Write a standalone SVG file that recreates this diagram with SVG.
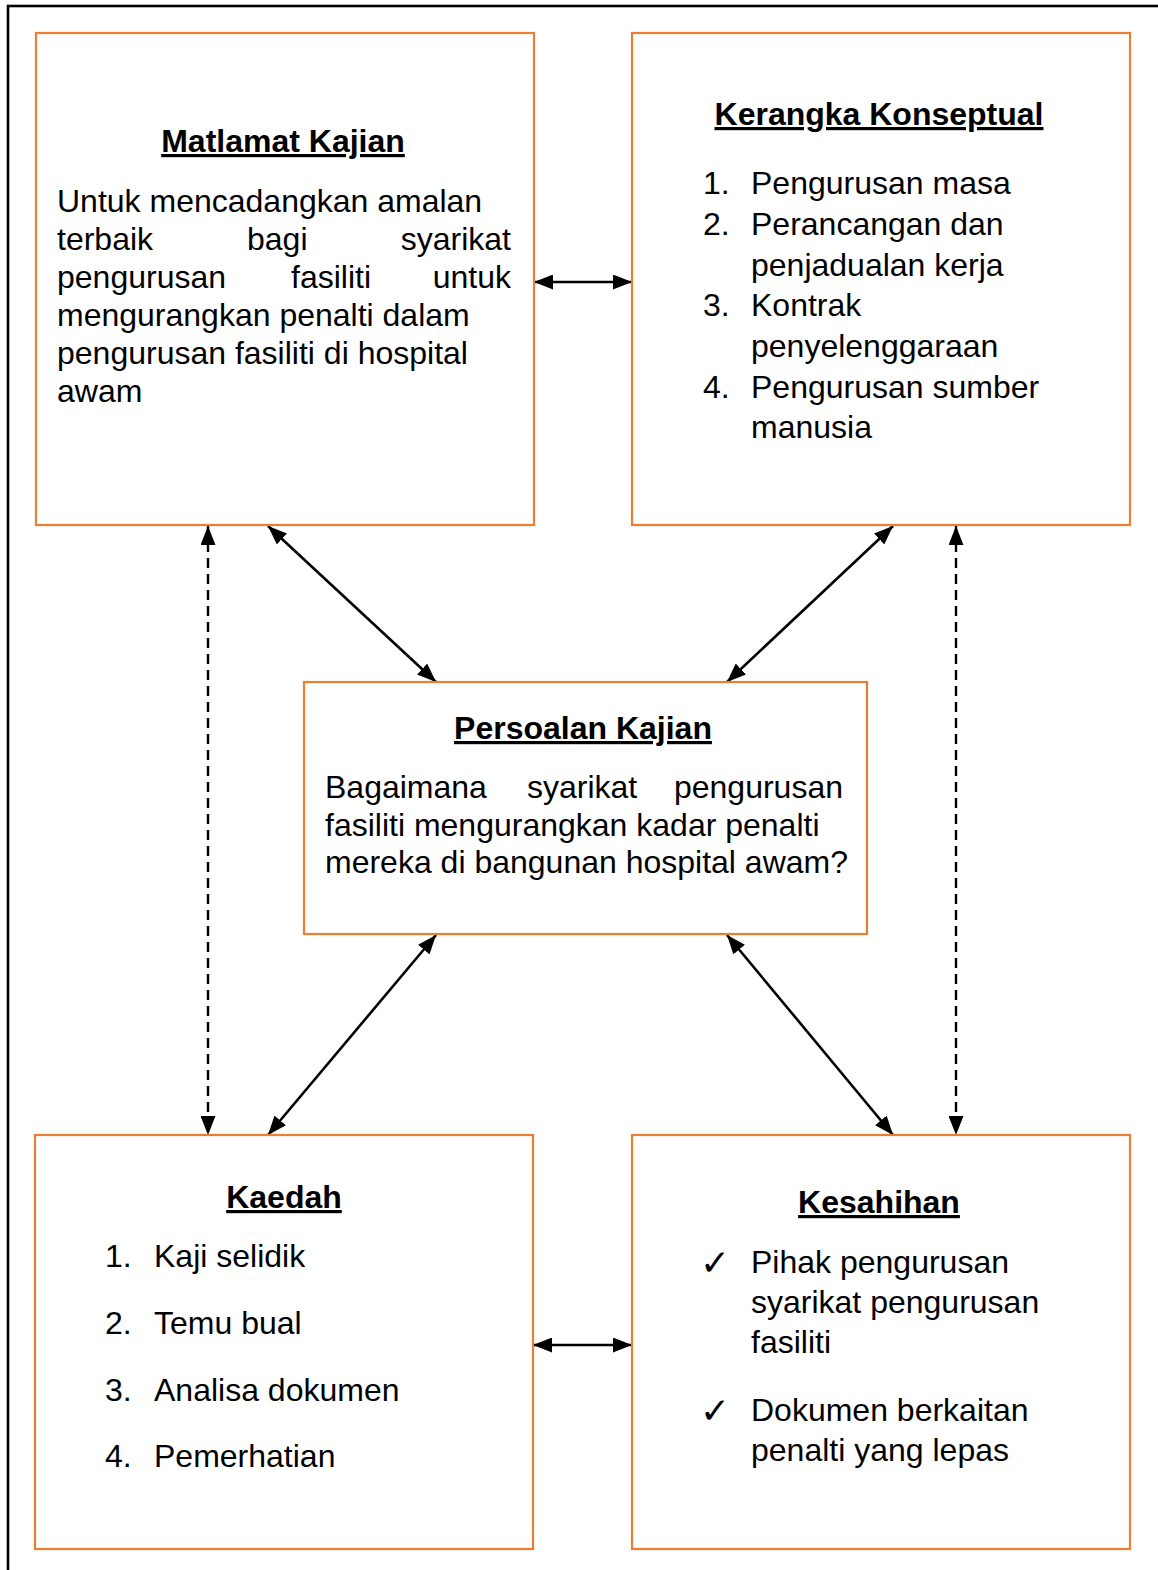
<svg xmlns="http://www.w3.org/2000/svg" width="1158" height="1570" viewBox="0 0 1158 1570">
<style>
.box{fill:#fff;stroke:#ED7D31;stroke-width:2.2}
.t{font-family:"Liberation Sans",Arial,sans-serif;font-size:32px;fill:#000}
.h{font-family:"Liberation Sans",Arial,sans-serif;font-size:32px;font-weight:bold;fill:#000;text-anchor:middle;text-decoration:underline}
.ck{font-family:"DejaVu Sans",sans-serif;font-size:36px;font-weight:bold;fill:#000}
.c{stroke:#000;stroke-width:2.6;fill:none;marker-start:url(#ah);marker-end:url(#ah)}
.d{stroke:#000;stroke-width:2.4;fill:none;stroke-dasharray:10 6;marker-start:url(#ah);marker-end:url(#ah)}
</style>
<defs>
<marker id="ah" viewBox="0 0 19 15" refX="19" refY="7.5" markerWidth="19" markerHeight="15" markerUnits="userSpaceOnUse" orient="auto-start-reverse">
<path d="M0,0 L19,7.5 L0,15 Z" fill="#000"/>
</marker>
</defs>
<rect x="0" y="0" width="1158" height="1570" fill="#fff"/>
<rect x="8" y="6" width="1170" height="1590" fill="none" stroke="#000" stroke-width="2.6"/>

<g id="connectors">
<line class="c" x1="534" y1="282" x2="632" y2="282"/>
<line class="c" x1="533" y1="1345" x2="632" y2="1345"/>
<line class="d" x1="208" y1="526" x2="208" y2="1135"/>
<line class="d" x1="956" y1="526" x2="956" y2="1135"/>
<line class="c" x1="268" y1="526" x2="436" y2="682"/>
<line class="c" x1="893" y1="526" x2="727" y2="682"/>
<line class="c" x1="436" y1="935" x2="268" y2="1135"/>
<line class="c" x1="727" y1="935" x2="893" y2="1135"/>
</g>

<g id="matlamat">
<rect class="box" x="36" y="33" width="498" height="492"/>
<text class="h" x="283" y="152">Matlamat Kajian</text>
<text class="t" x="57" y="212">Untuk mencadangkan amalan</text>
<text class="t" x="57" y="250">terbaik</text>
<text class="t" x="247" y="250">bagi</text>
<text class="t" x="511" y="250" text-anchor="end">syarikat</text>
<text class="t" x="57" y="288">pengurusan</text>
<text class="t" x="291" y="288">fasiliti</text>
<text class="t" x="511" y="288" text-anchor="end">untuk</text>
<text class="t" x="57" y="326">mengurangkan penalti dalam</text>
<text class="t" x="57" y="364">pengurusan fasiliti di hospital</text>
<text class="t" x="57" y="402">awam</text>
</g>

<g id="kerangka">
<rect class="box" x="632" y="33" width="498" height="492"/>
<text class="h" x="879" y="125">Kerangka Konseptual</text>
<text class="t" x="703" y="194">1.</text>
<text class="t" x="751" y="194">Pengurusan masa</text>
<text class="t" x="703" y="235">2.</text>
<text class="t" x="751" y="235">Perancangan dan</text>
<text class="t" x="751" y="276">penjadualan kerja</text>
<text class="t" x="703" y="316">3.</text>
<text class="t" x="751" y="316">Kontrak</text>
<text class="t" x="751" y="357">penyelenggaraan</text>
<text class="t" x="703" y="398">4.</text>
<text class="t" x="751" y="398">Pengurusan sumber</text>
<text class="t" x="751" y="438">manusia</text>
</g>

<g id="persoalan">
<rect class="box" x="304" y="682" width="563" height="252"/>
<text class="h" x="583" y="739">Persoalan Kajian</text>
<text class="t" x="325" y="798">Bagaimana</text>
<text class="t" x="527" y="798">syarikat</text>
<text class="t" x="843" y="798" text-anchor="end">pengurusan</text>
<text class="t" x="325" y="836">fasiliti mengurangkan kadar penalti</text>
<text class="t" x="325" y="873">mereka di bangunan hospital awam?</text>
</g>

<g id="kaedah">
<rect class="box" x="35" y="1135" width="498" height="414"/>
<text class="h" x="284" y="1208">Kaedah</text>
<text class="t" x="105" y="1267">1.</text>
<text class="t" x="154" y="1267">Kaji selidik</text>
<text class="t" x="105" y="1334">2.</text>
<text class="t" x="154" y="1334">Temu bual</text>
<text class="t" x="105" y="1401">3.</text>
<text class="t" x="154" y="1401">Analisa dokumen</text>
<text class="t" x="105" y="1467">4.</text>
<text class="t" x="154" y="1467">Pemerhatian</text>
</g>

<g id="kesahihan">
<rect class="box" x="632" y="1135" width="498" height="414"/>
<text class="h" x="879" y="1213">Kesahihan</text>
<text class="ck" x="700" y="1275">✓</text>
<text class="t" x="751" y="1273">Pihak pengurusan</text>
<text class="t" x="751" y="1313">syarikat pengurusan</text>
<text class="t" x="751" y="1353">fasiliti</text>
<text class="ck" x="700" y="1423">✓</text>
<text class="t" x="751" y="1421">Dokumen berkaitan</text>
<text class="t" x="751" y="1461">penalti yang lepas</text>
</g>
</svg>
